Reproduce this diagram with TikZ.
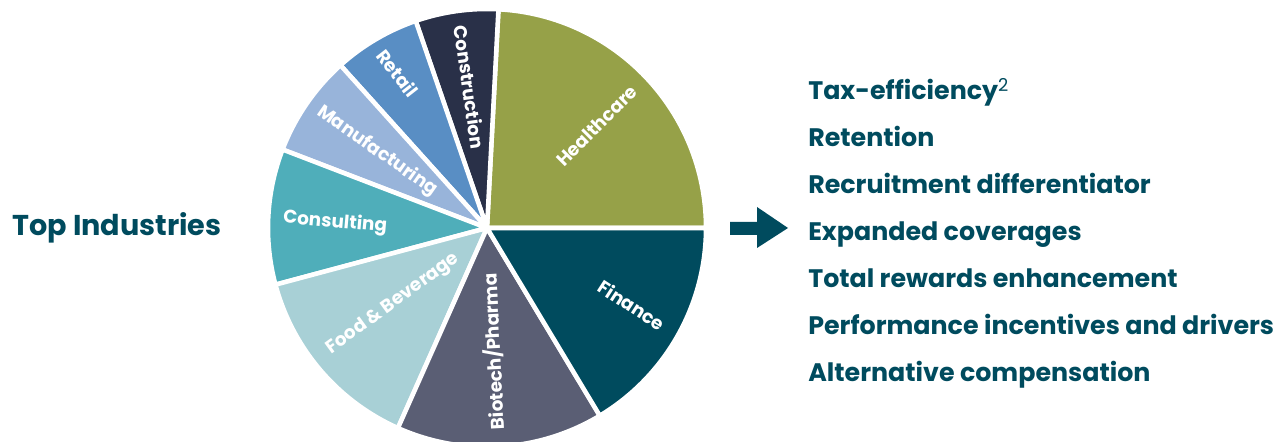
\documentclass[tikz,border=0pt]{standalone}
\usepackage{fontspec}
\setmainfont{Poppins}
\usetikzlibrary{calc, positioning}
\definecolor{tealtext}{RGB}{0, 75, 94}
\definecolor{healthcare}{RGB}{150, 161, 72}
\definecolor{construction}{RGB}{41, 48, 72}
\definecolor{retail}{RGB}{89, 142, 196}
\definecolor{manufacturing}{RGB}{152, 180, 218}
\definecolor{consulting}{RGB}{79, 174, 186}
\definecolor{foodbev}{RGB}{168, 208, 214}
\definecolor{biotech}{RGB}{90, 94, 116}
\definecolor{finance}{RGB}{0, 75, 94}

\begin{document}
\begin{tikzpicture}[
	x=0.75pt, y=0.75pt,
	slice/.style = {draw=white, line width=3.4pt, line join=round},
	slicetext/.style = {text=white, inner sep=0pt, font=\bfseries\fontsize{13.8}{15}\selectfont},
	headtext/.style = {text=tealtext, inner sep=0pt, anchor=base west, font=\bfseries\fontsize{21.5}{24}\selectfont},
	listtext/.style = {headtext, font=\bfseries\fontsize{19}{22}\selectfont}
]
	\useasboundingbox (0,0) rectangle (1284,442);
	\coordinate (c) at (487,214);

	% slices, counter-clockwise from the right
	\filldraw[slice, fill=healthcare, shift={(2,2)}] (c) -- ++(0:219) arc[start angle=0, end angle=87, radius=219] -- cycle;
	\foreach \a/\b/\col in {87/109/construction, 109/132/retail, 132/159/manufacturing,
		159/195/consulting, 195/246/foodbev, 246/301/biotech, 301/360/finance}
		\filldraw[slice, fill=\col] (c) -- ++(\a:219) arc[start angle=\a, end angle=\b, radius=219] -- cycle;

	\node[slicetext, rotate=45] (health) at ([shift={(43:150)}]c) {Healthcare};
	\node[slicetext, rotate=-82] (constr) at ([shift={(97:142)}]c) {Construction};
	\node[slicetext, rotate=-52] (retail) at ([shift={(120:179)}]c) {Retail};
	\node[slicetext, rotate=-35] (manuf) at ([shift={(145:134)}]c) {Manufacturing};
	\node[slicetext, rotate=-5] (consult) at ([shift={(178:152)}]c) {Consulting};
	\node[slicetext, rotate=36] (food) at ([shift={(219:121)}]c) {Food \& Beverage};
	\node[slicetext, rotate=93] (bio) at ([shift={(273:124)}]c) {Biotech/Pharma};
	\node[slicetext, rotate=-33] (fin) at ([shift={(332:164)}]c) {Finance};

	\node[headtext] (top) at (12,206) {Top Industries};

	% block arrow
	\fill[tealtext] (730,207) -- (757,207) -- (757,194) -- (788,214) -- (757,235) -- (757,220) -- (730,220) -- cycle;

	\foreach \txt [count=\i] in {{Tax-efficiency\textsuperscript{\mdseries 2}}, Retention,
		Recruitment differentiator, Expanded coverages, Total rewards enhancement,
		Performance incentives and drivers, Alternative compensation}
		\node[listtext] (item\i) at (808,389-47*\i) {\txt};
\end{tikzpicture}
\end{document}
